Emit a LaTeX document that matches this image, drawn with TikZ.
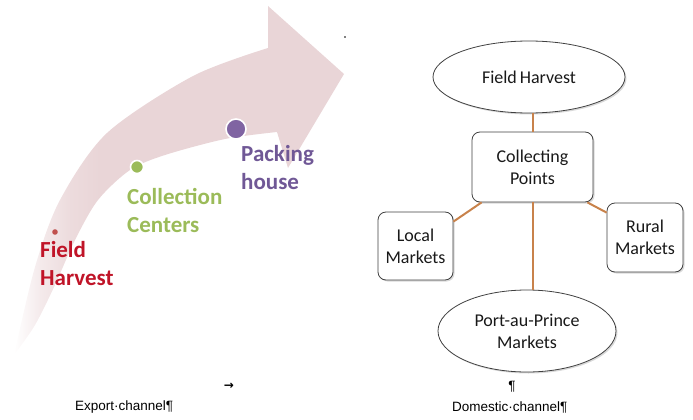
\documentclass[tikz,border=0pt]{standalone}
\usepackage{fontspec}
\setmainfont{Carlito}
\newfontfamily\notefont{Liberation Sans}
\newfontfamily\symfont{DejaVu Sans}
\usetikzlibrary{shapes.geometric,shadows}

\definecolor{arrowpink}{RGB}{233,213,215}
\definecolor{harvestred}{RGB}{192,20,40}
\definecolor{centergreen}{RGB}{155,187,89}
\definecolor{packpurple}{RGB}{112,88,150}
\definecolor{dotred}{RGB}{192,80,77}
\definecolor{dotpurple}{RGB}{128,100,162}
\definecolor{linkorange}{RGB}{200,130,75}
\definecolor{outline}{RGB}{64,64,64}

% fade of the big arrow towards its tail (left end)
\pgfdeclarehorizontalshading{arrowfade}{100bp}{color(0bp)=(white); color(25bp)=(white);
  color(29bp)=(arrowpink!50!white); color(33.5bp)=(arrowpink!85!white);
  color(38bp)=(arrowpink); color(100bp)=(arrowpink)}

\tikzset{
  stage/.style={font=\fontsize{23}{28}\selectfont\bfseries, align=left,
    anchor=north west, inner sep=0pt},
  stagedot/.style={draw=white, line width=1.6pt},
  shapetext/.style={font=\fontsize{18}{22}\selectfont, text=black!90, align=center,
    inner sep=0pt, draw=outline, line width=0.8pt, fill=white,
    drop shadow={shadow xshift=1.5pt, shadow yshift=-1.5pt, opacity=0.3}},
  oval/.style={shapetext, ellipse},
  roundbox/.style={shapetext, rectangle, rounded corners=8pt},
  link/.style={draw=linkorange, line width=2pt},
  note/.style={font=\notefont\fontsize{13.5}{16}\selectfont, inner sep=0pt, text=black}
}

\begin{document}
\begin{tikzpicture}[x=1pt,y=-1pt]
\useasboundingbox (0,0) rectangle (693,420);

% curved export arrow
\shade[shading=arrowfade]
  plot[smooth] coordinates {(14,355) (35,267) (60,200) (107,133) (193,76) (268,48)}
  -- (268,6) -- (344,74) -- (288,168) -- (277,132)
  -- plot[smooth] coordinates {(277,132) (225,139) (165,155) (130,170) (98,200)
    (75,240) (55,285) (35,325) (14,355)}
  -- cycle;

% stage markers on the arrow
\fill[dotred] (55,232) circle (2.8);
\filldraw[fill=centergreen, stagedot] (137,167) circle (6.5);
\filldraw[fill=dotpurple, stagedot] (236,129) circle (10);

\node[stage, text=harvestred] (fhl) at (40,241) {Field\\Harvest};
\node[stage, text=centergreen] (ccl) at (127,188) {Collection\\Centers};
\node[stage, text=packpurple] (phl) at (241,145) {Packing\\house};

\fill (345,37) circle (0.9);

% domestic channel
\node[oval, minimum width=192pt, minimum height=72pt] (fh) at (529,77) {Field\,Harvest};
\node[roundbox, minimum width=121pt, minimum height=70pt] (cp) at (532.5,167) {Collecting\\Points};
\node[roundbox, minimum width=75pt, minimum height=68pt] (lm) at (415.5,246) {Local\\Markets};
\node[roundbox, minimum width=76pt, minimum height=69pt] (rm) at (645,237.5) {Rural\\Markets};
\node[oval, minimum width=178pt, minimum height=82pt] (pp) at (527,331) {Port-au-Prince\\Markets};

\draw[link] (cp.north) -- (cp.north |- fh.south);
\draw[link] (cp.south) -- (cp.south |- pp.north);
\draw[link] ([xshift=10pt]cp.south west) -- ([yshift=-10pt]lm.north east);
\draw[link] ([xshift=-6pt]cp.south east) -- ([yshift=-10pt]rm.north west);

% captions
\node[note, anchor=west] (ex) at (75,407) {Export·channel¶};
\node[font=\symfont\fontsize{12}{12}\selectfont\bfseries, inner sep=0pt] (tab) at (229,386) {→};
\node[note] (pil) at (512,387) {¶};
\node[note, anchor=west] (dc) at (452,407) {Domestic·channel¶};
\end{tikzpicture}
\end{document}
